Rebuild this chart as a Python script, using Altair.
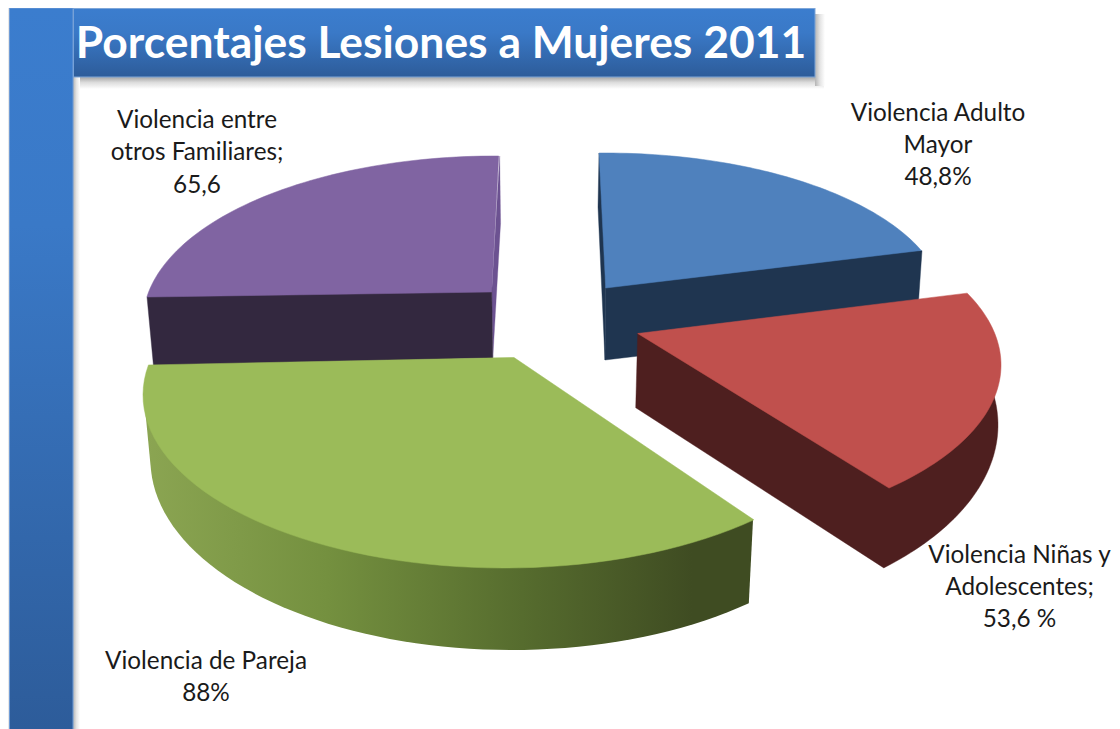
import numpy as np
import pandas as pd
import altair as alt

TITLE = "Porcentajes Lesiones a Mujeres 2011"
CATEGORIES = ["Violencia Adulto Mayor", "Violencia Niñas y Adolescentes", "Violencia de Pareja", "Violencia entre otros Familiares"]
VALUES = [48.8, 53.6, 88.0, 65.6]
LABEL_LINES = [
    ["Violencia Adulto", "Mayor", "48,8%"],
    ["Violencia Niñas y", "Adolescentes;", "53,6 %"],
    ["Violencia de Pareja", "88%"],
    ["Violencia entre", "otros Familiares;", "65,6"],
]

# page geometry (picture coordinates)
X = alt.Scale(domain=[8, 1112], range=[0, 1104])
Y = alt.Scale(domain=[8, 729], range=[0, 721])
LABEL_POS = [(938, [114, 146, 178]), (1019.5, [556, 588, 620]), (206, [662, 694]), (197, [121, 153, 186])]

TOTAL = sum(VALUES)
# perspective drawing of each slice: ellipse of the top face, start of the slice, perspective stretch of its sweep
TOP = [
    dict(c=(605, 307), r=(340, 154), start=-1.0, stretch=1.012, apex=(605.7, 288)),
    dict(c=(640, 365), r=(361, 170), start=65.0, stretch=0.947, apex=(637.7, 333.5)),
    dict(c=(504, 395), r=(361, 173), start=136.2, stretch=1.162, apex=(514, 357.5)),
    dict(c=(495, 321.5), r=(352, 165.5), start=278.5, stretch=0.89, apex=(491.7, 292)),
]
COLORS = ["#4f81bd", "#c0504d", "#9bbb59", "#8064a2"]


def arc(c, r, a0, a1, n=60):
    t = np.radians(np.linspace(a0, a1, n))
    return [(c[0] + r[0] * np.sin(v), c[1] - r[1] * np.cos(v)) for v in t]


def sweep(i):
    g = TOP[i]
    return g["start"], g["start"] + VALUES[i] / TOTAL * 360 * g["stretch"]


def poly(points, fill, stroke_width=0):
    df = pd.DataFrame(points, columns=["x", "y"])
    df["i"] = range(len(df))
    return alt.Chart(df).mark_line(
        interpolate="linear-closed", fill=fill, stroke=fill if isinstance(fill, str) else "#6f8a42",
        strokeWidth=stroke_width,
    ).encode(
        x=alt.X("x:Q", scale=X, axis=None),
        y=alt.Y("y:Q", scale=Y, axis=None),
        order="i:Q",
    )


def top_face(i):
    g = TOP[i]
    a0, a1 = sweep(i)
    return poly([g["apex"]] + arc(g["c"], g["r"], a0, a1), COLORS[i], 0.5)


def rect(x0, x1, y0, y1, fill, opacity=1.0):
    df = pd.DataFrame({"x": [x0], "x2": [x1], "y": [y0], "y2": [y1]})
    return alt.Chart(df).mark_rect(fill=fill, opacity=opacity).encode(
        x=alt.X("x:Q", scale=X, axis=None), x2="x2:Q",
        y=alt.Y("y:Q", scale=Y, axis=None), y2="y2:Q",
    )


def vgrad(stops):
    return alt.Gradient(gradient="linear", x1=0, x2=0, y1=0, y2=1,
                        stops=[alt.GradientStop(offset=o, color=c) for o, c in stops])


def hgrad(stops):
    return alt.Gradient(gradient="linear", x1=0, x2=1, y1=0, y2=0,
                        stops=[alt.GradientStop(offset=o, color=c) for o, c in stops])


BAR_V = vgrad([(0, "#3b7dce"), (0.3, "#3a79c7"), (1, "#2d5c9a")])
BAR_H = vgrad([(0, "#3b7dce"), (0.35, "#3a79c7"), (1, "#2d5c9a")])
SHADE_DOWN = vgrad([(0, "#a4a4a4"), (0.45, "#dcdcdc"), (1, "#ffffff")])
SHADE_RIGHT = hgrad([(0, "#b4b4b4"), (0.5, "#e4e4e4"), (1, "#ffffff")])
SHADE_LEFT = hgrad([(0, "#ffffff"), (1, "#d0d0d0")])
GREEN_WALL = hgrad([(0, "#8ba552"), (0.3, "#74903f"), (0.62, "#566c2e"), (0.9, "#3f4c22"), (1, "#3f4c22")])

layers = [
    # decoration: shadows and bars
    rect(73, 824, 77, 89, SHADE_DOWN),
    rect(815, 825, 14, 86, SHADE_RIGHT),
    rect(73, 80, 77, 729, SHADE_RIGHT),
    rect(8, 9, 8, 729, SHADE_LEFT),
    rect(73, 815.5, 8, 77.5, "#7ea6d8"),
    rect(74, 814.5, 9, 76.5, BAR_H),
    rect(9, 73.5, 8, 729, "#6f9bd6"),
    rect(10, 72.5, 8.5, 729, BAR_V),
]

# blue
layers += [
    poly([(599, 153), (608, 200), TOP[0]["apex"], (605, 360), (598, 207)], "#1f3550", 0.4),
    poly([(605.7, 283), (915, 250), (922, 250.7), (917, 323), (605, 360)], "#1f3550", 0.4),
    top_face(0),
]
# purple
layers += [
    poly([(499.7, 156), (500.6, 223), (492.8, 358), (491.7, 292)], "#6c5291", 0.3),
    poly([(147, 297), (155, 290), (491.7, 287), (492.7, 358), (153.5, 366)], "#33283f", 0.4),
    top_face(3),
]
# green
layers += [
    poly([(145, 408)] + arc((511.5, 460), (361, 190), 267, 138.9) + [(753, 520)], GREEN_WALL, 0),
    top_face(2),
]
# red
layers += [
    poly([TOP[1]["apex"], (635.7, 407.7)] + arc((636, 425), (362, 196), 136.8, 65), "#4e1f1f", 0.4),
    top_face(1),
]

# labels
rows = []
for lines, (cx, ys) in zip(LABEL_LINES, LABEL_POS):
    for t, y in zip(lines, ys):
        rows.append({"t": t, "x": cx, "y": y})
layers.append(
    alt.Chart(pd.DataFrame(rows)).mark_text(font="Lato", fontSize=24.3, color="#1a1a1a", align="center", baseline="middle").encode(
        x=alt.X("x:Q", scale=X, axis=None), y=alt.Y("y:Q", scale=Y, axis=None), text="t:N")
)
layers.append(
    alt.Chart(pd.DataFrame([{"t": TITLE, "x": 441, "y": 45}])).mark_text(
        font="Lato", fontSize=44.4, fontWeight="bold", color="#ffffff", align="center", baseline="middle").encode(
        x=alt.X("x:Q", scale=X, axis=None), y=alt.Y("y:Q", scale=Y, axis=None), text="t:N")
)

chart = alt.layer(*layers).properties(
    width=1104, height=721, padding=0, autosize=alt.AutoSizeParams(type="none"),
    background="#ffffff",
).configure_view(stroke=None)

chart.save("out.html", embed_options={"renderer": "svg", "actions": False})
